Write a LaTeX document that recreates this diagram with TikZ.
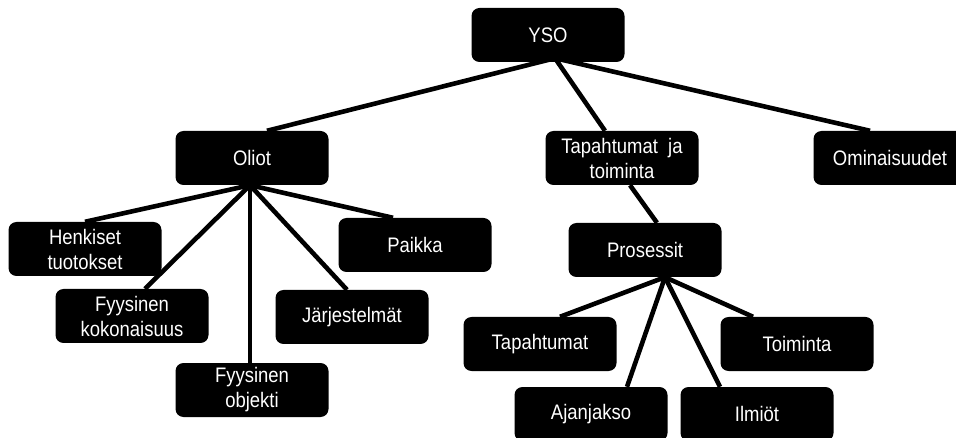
\documentclass[tikz,border=0pt]{standalone}
\usepackage{fontspec}
\setmainfont{Liberation Sans}[FakeStretch=0.88]
\usetikzlibrary{backgrounds}
\begin{document}
\begin{tikzpicture}[x=1pt,y=-1pt,
  box/.style={fill=black, rounded corners=8pt, minimum width=153pt, minimum height=54pt,
    inner sep=0pt, text=white, align=center, font=\fontsize{21}{25}\selectfont},
  link/.style={line width=4.6pt, draw=black}]
\useasboundingbox (0,0) rectangle (956,438);
\clip (0,0) rectangle (956,438);
\node[box] (yso) at (548,35) {YSO};
\node[box] (oliot) at (252,158) {Oliot};
\node[box] (tjt) at (622,158) {Tapahtumat\ \ ja\\toiminta};
\node[box] (omin) at (890,158) {Ominaisuudet};
\node[box] (henk) at (85,249) {Henkiset\\tuotokset};
\node[box] (paikka) at (415,245) {Paikka};
\node[box] (fk) at (132,316) {Fyysinen\\kokonaisuus};
\node[box] (jarj) at (352,317) {Järjestelmät};
\node[box] (fo) at (252,390) {Fyysinen\\objekti};
\node[box] (pros) at (645,250) {Prosessit};
\node[box] (tap) at (540,344) {Tapahtumat};
\node[box] (toim) at (797,344) {Toiminta};
\node[box] (ajan) at (591,414) {Ajanjakso};
\node[box] (ilm) at (757,414) {Ilmiöt};
\begin{pgfonlayer}{background}
\draw[link] ([xshift=7pt,yshift=4pt]yso.south) -- ([xshift=15pt]oliot.north);
\draw[link] ([xshift=7pt,yshift=4pt]yso.south) -- ([xshift=-17pt]tjt.north);
\draw[link] ([xshift=7pt,yshift=4pt]yso.south) -- ([xshift=-20pt]omin.north);
\draw[link] ([xshift=8pt]tjt.south) -- ([xshift=12pt]pros.north);
\draw[link] ([xshift=-2pt]oliot.south) -- (henk.north);
\draw[link] ([xshift=-2pt]oliot.south) -- ([xshift=13pt]fk.north);
\draw[link] ([xshift=-2pt]oliot.south) -- ([xshift=-2pt]fo.north);
\draw[link] ([xshift=-2pt]oliot.south) -- ([xshift=-5pt]jarj.north);
\draw[link] ([xshift=-2pt]oliot.south) -- ([xshift=-22pt]paikka.north);
\draw[link] ([xshift=20pt]pros.south) -- ([xshift=20pt]tap.north);
\draw[link] ([xshift=20pt]pros.south) -- ([xshift=36pt]ajan.north);
\draw[link] ([xshift=20pt]pros.south) -- ([xshift=-37pt]ilm.north);
\draw[link] ([xshift=20pt]pros.south) -- ([xshift=-44pt]toim.north);
\end{pgfonlayer}
\end{tikzpicture}
\end{document}
